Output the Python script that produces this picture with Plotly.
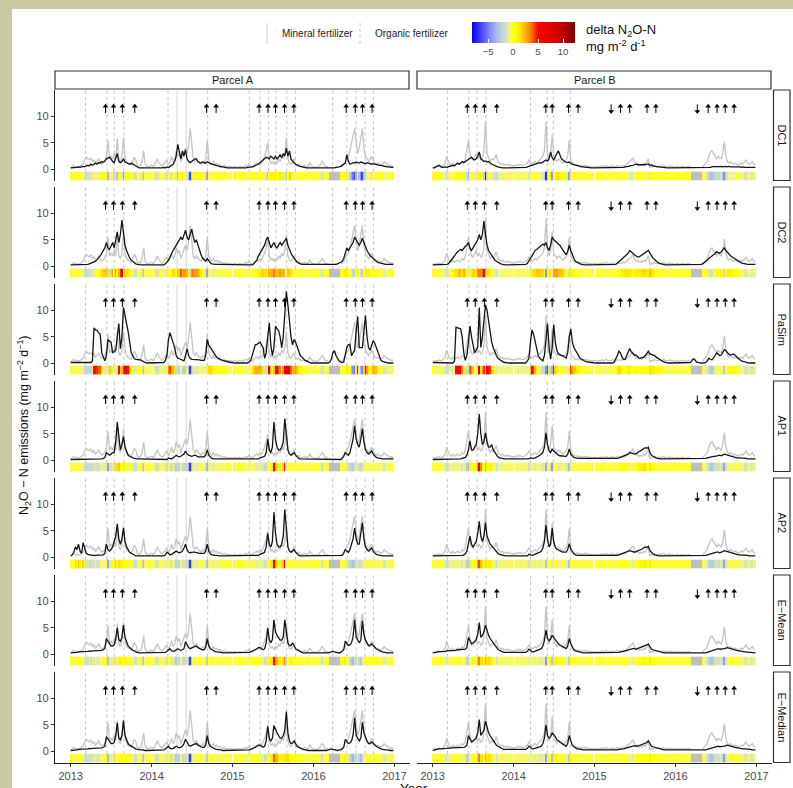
import plotly.graph_objects as go
import pandas as pd

W, H = 793, 788

# ---------------- data ----------------
week_dates = pd.date_range("2013-01-01", periods=209, freq="7D")
models = ["DC1", "DC2", "PaSim", "AP1", "AP2", "E\u2212Mean", "E\u2212Median"]
parcels = ["Parcel A", "Parcel B"]
year_ticks = ["2013-01-01", "2014-01-01", "2015-01-01", "2016-01-01", "2017-01-01"]
year_labels = ["2013", "2014", "2015", "2016", "2017"]
cbar_ticks = [-5, 0, 5, 10]

N = None
obs_a = [
 0.3,0.5,0.8,0.5,0.6,0.4,0.6,0.8,1.0,1.8, 2.3,2.0,1.8,2.2,1.5,1.8,1.2,1.6,2.0,1.4,
 1.0,1.2,1.5,2.5,5.5,2.0,2.5,2.0,3.0,2.0, 5.8,2.0,1.5,2.5,6.0,2.5,1.5,1.2,1.0,0.8,
 1.5,2.3,1.8,0.8,0.6,0.8,1.5,3.5,1.0,0.6, 0.5,0.6,
 0.8,0.6,0.8,1.5,2.0,1.2,0.8,0.6,1.0,1.5, 1.8,1.0,1.5,2.5,1.5,2.0,3.5,2.5,3.0,1.5,
 2.5,3.0,4.0,3.0,4.5,7.7,4.0,2.0,1.5,2.0, 1.5,1.2,1.0,1.5,1.2,2.0,5.5,2.0,1.2,1.0,
 1.5,1.0,1.2,0.8,1.0,0.7,0.6,0.8,0.5,0.6, 0.5,0.6,
 0.4,0.5,0.6,0.4,0.5,0.6,0.5,0.4,0.6,0.8, 0.6,1.0,0.6,0.5,0.8,1.0,1.2,1.0,1.5,1.2,
 1.8,2.5,3.5,5.0,2.0,1.2,1.5,1.0,1.5,1.2, 2.0,1.5,2.5,2.0,3.0,6.0,2.0,1.2,1.0,1.5,
 2.0,1.0,0.8,1.0,0.6,0.5,0.6,0.8,0.5,0.6, 1.2,0.8,
 0.5,0.4,0.5,0.4,0.6,1.0,1.5,1.2,0.6,0.5, 0.6,N,N,N,N,N,N,N,0.5,0.6,
 1.0,1.5,2.0,2.5,3.5,5.0,6.5,7.7,5.0,3.0, 4.0,6.0,7.7,4.0,2.5,2.0,1.5,2.0,2.5,1.8,
 1.2,1.0,1.2,1.0,0.8,1.0,1.5,1.2,1.0,0.8, 0.6,0.7,0.5]
obs_b = [
 0.5,0.4,0.6,0.5,0.7,0.5,0.6,0.8,1.2,2.5, 1.5,1.0,0.8,1.2,0.8,1.0,1.2,0.9,1.0,1.5,
 1.2,2.0,3.5,5.5,3.0,2.0,1.8,2.5,3.0,2.0, 2.5,1.8,2.0,3.5,9.0,3.0,2.0,1.5,2.0,1.8,
 2.2,2.8,1.5,1.2,1.0,1.2,0.8,1.0,0.8,1.0, 0.7,0.8,
 0.6,0.8,0.7,1.0,0.8,0.9,0.7,0.8,1.0,1.2, 1.8,1.5,1.0,1.2,1.5,1.2,1.5,1.8,2.0,2.5,
 3.5,9.0,3.0,2.0,3.0,6.5,2.5,2.0,1.5,2.0, 1.8,1.5,1.2,1.5,1.8,2.5,5.5,2.0,1.2,1.0,
 0.8,0.9,0.7,0.8,0.6,0.7,0.8,0.6,0.7,0.5, 0.6,0.5,
 0.5,0.6,0.4,0.6,0.5,0.7,0.5,0.6,0.8,0.5, 0.6,0.5,0.7,0.6,0.5,0.8,0.6,0.7,0.6,0.8,
 0.7,1.0,1.2,1.5,1.8,2.2,1.5,1.0,1.2,0.8, 1.0,0.8,1.2,1.0,1.5,2.0,0.3,0.6,0.5,0.8,
 0.6,0.5,0.7,0.5,0.6,0.8,0.5,0.6,0.5,0.7, 0.5,0.6,
 0.4,0.5,0.6,0.4,0.5,0.6,0.5,0.4,0.5,0.6, 0.5,N,N,N,N,N,N,N,0.5,0.8,
 1.0,1.5,2.5,3.2,3.5,3.0,2.5,2.0,2.5,2.2, 2.0,3.0,5.2,2.5,1.5,1.2,1.5,1.2,1.0,1.2,
 1.0,0.8,1.0,1.2,1.0,1.5,1.8,1.2,1.0,1.2, 1.5,1.0,0.8]

dc1_a = [
 0.3,0.3,0.4,0.3,0.4,0.5,0.4,0.5,0.6,0.5, 0.6,0.8,0.7,1.0,0.8,1.0,1.2,1.0,1.3,1.2,
 1.5,1.4,1.6,2.0,2.2,2.3,2.0,1.5,1.3,2.0, 3.0,1.5,1.3,1.5,2.0,1.4,1.3,1.2,1.0,1.2,
 1.0,0.8,0.6,0.4,0.3,0.3,0.3,0.2,0.3,0.2, 0.3,0.2,
 0.2,0.3,0.2,0.3,0.3,0.2,0.3,0.3,0.4,0.3, 0.5,0.4,0.6,0.8,1.0,1.5,2.5,4.7,3.0,2.0,
 3.5,2.5,3.7,2.0,1.5,1.3,1.5,1.8,2.0,2.0, 1.5,1.3,1.2,1.4,1.3,1.2,1.5,1.2,1.1,1.0,
 0.9,0.8,0.8,0.7,0.6,0.5,0.5,0.4,0.4,0.3, 0.3,0.3,
 0.3,0.2,0.3,0.2,0.2,0.3,0.2,0.3,0.3,0.3, 0.4,0.4,0.5,0.5,0.6,0.8,0.9,1.0,1.2,1.5,
 1.8,2.0,2.3,2.2,2.0,2.5,2.2,2.0,2.5,2.0, 2.3,2.8,2.2,3.0,2.5,4.0,2.5,3.5,2.0,1.5,
 1.2,1.0,0.8,0.7,0.6,0.5,0.4,0.4,0.3,0.3, 0.3,0.3,
 0.2,0.3,0.2,0.2,0.3,0.2,0.3,0.2,0.3,0.3, 0.2,0.3,0.3,0.3,0.3,0.4,0.4,0.5,0.6,0.8,
 1.0,1.2,2.8,1.5,1.0,1.1,1.3,1.2,1.4,1.3, 1.2,1.4,1.3,1.2,1.1,1.3,1.2,1.1,1.0,1.1,
 1.0,0.9,0.9,0.8,0.8,0.7,0.6,0.6,0.5,0.5, 0.4,0.4,0.4]
dc1_b = [
 0.3,0.3,0.5,0.7,0.8,0.6,0.4,0.4,0.5,0.4, 0.5,0.6,0.6,0.8,0.7,1.0,1.2,1.0,1.2,1.5,
 1.3,1.5,1.8,2.0,2.2,2.3,2.0,1.8,2.0,2.5, 3.3,2.0,1.8,1.5,1.6,1.4,1.5,1.2,1.0,0.9,
 0.7,0.6,0.5,0.4,0.4,0.3,0.3,0.3,0.3,0.3, 0.3,0.3,
 0.3,0.3,0.3,0.3,0.3,0.3,0.3,0.4,0.4,0.5, 0.6,0.7,0.8,0.9,1.0,1.1,1.2,1.3,1.2,1.4,
 1.5,1.8,1.6,2.0,3.3,2.2,1.8,2.5,3.0,3.5, 2.5,2.0,1.8,1.5,1.4,1.3,1.4,1.1,1.0,0.9,
 0.8,0.7,0.6,0.6,0.5,0.5,0.4,0.4,0.4,0.3, 0.3,0.3,
 0.3,0.3,0.3,0.3,0.3,0.3,0.3,0.3,0.3,0.3, 0.3,0.3,0.3,0.3,0.3,0.3,0.3,0.4,0.4,0.4,
 0.5,0.5,0.6,0.7,0.7,0.8,0.9,1.0,0.9,0.9, 0.8,0.8,0.9,0.9,1.0,1.0,0.8,0.9,0.7,0.6,
 0.6,0.5,0.5,0.4,0.4,0.4,0.3,0.3,0.3,0.3, 0.3,0.3,
 0.3,0.3,0.3,0.3,0.3,0.3,0.3,0.3,0.3,0.3, 0.3,0.3,0.3,0.3,0.3,0.3,0.3,0.3,0.3,0.4,
 0.4,0.4,0.4,0.4,0.5,0.6,0.5,0.6,0.5,0.6, 0.6,0.5,0.6,0.6,0.5,0.6,0.5,0.5,0.6,0.5,
 0.5,0.5,0.5,0.4,0.5,0.4,0.4,0.4,0.4,0.4, 0.4,0.4,0.4]
dc2_a = [
 0.3,0.3,0.3,0.3,0.3,0.3,0.3,0.3,0.3,0.3, 0.3,0.4,0.5,0.6,0.7,0.8,1.0,1.3,1.6,2.0,
 2.5,3.0,3.5,4.5,3.5,3.2,4.0,4.5,3.5,5.0, 6.5,4.5,6.0,8.7,6.0,4.0,3.0,2.2,1.6,1.2,
 0.9,0.7,0.5,0.4,0.3,0.3,0.3,0.3,0.3,0.3, 0.3,0.3,
 0.3,0.3,0.3,0.3,0.3,0.3,0.3,0.3,0.3,0.5, 0.8,1.2,1.8,2.5,3.0,3.5,4.0,4.5,5.0,5.5,
 5.0,6.0,6.8,5.5,5.0,6.0,7.0,5.5,4.5,5.0, 4.0,3.0,2.2,1.6,1.2,1.0,1.5,1.0,0.7,0.5,
 0.4,0.4,0.4,0.4,0.3,0.3,0.3,0.3,0.3,0.3, 0.3,0.3,
 0.3,0.3,0.3,0.3,0.3,0.3,0.3,0.3,0.3,0.3, 0.3,0.3,0.3,0.3,0.5,0.8,1.2,2.0,2.5,3.0,
 3.5,4.0,5.0,5.5,4.5,3.5,4.0,4.5,3.8,3.5, 4.0,4.5,4.0,4.5,5.0,5.3,4.0,3.0,2.5,2.0,
 1.5,1.2,0.8,0.6,0.5,0.4,0.4,0.3,0.3,0.3, 0.3,0.3,
 0.3,0.3,0.3,0.3,0.3,0.3,0.3,0.3,0.3,0.3, 0.3,0.3,0.3,0.3,0.3,0.4,0.5,0.6,0.8,1.0,
 1.5,2.5,3.5,3.0,3.5,4.0,4.5,5.5,5.0,4.5, 4.0,4.5,5.3,4.5,3.5,3.0,2.5,2.0,1.8,1.5,
 1.2,1.0,0.8,0.7,0.6,0.5,0.4,0.4,0.4,0.4, 0.4,0.4,0.4]
dc2_b = [
 0.3,0.3,0.3,0.3,0.3,0.3,0.3,0.3,0.3,0.4, 0.5,0.8,1.2,1.6,2.0,2.5,2.8,3.0,3.2,3.0,
 3.5,3.8,4.0,4.5,3.5,3.0,3.5,4.0,4.5,5.0, 6.0,5.0,6.0,8.5,6.0,4.0,3.0,2.5,2.0,1.5,
 1.2,1.0,0.8,0.6,0.5,0.4,0.3,0.3,0.3,0.3, 0.3,0.3,
 0.3,0.3,0.3,0.3,0.3,0.3,0.3,0.3,0.4,0.6, 1.0,1.5,2.0,2.5,3.0,3.2,3.5,3.8,4.0,4.2,
 4.0,4.5,3.5,3.0,4.0,5.5,5.0,4.8,4.5,4.2, 4.0,3.5,3.0,2.5,2.2,2.8,4.0,3.0,2.0,1.5,
 1.0,0.8,0.6,0.5,0.4,0.3,0.3,0.3,0.3,0.3, 0.3,0.3,
 0.3,0.3,0.3,0.3,0.3,0.3,0.3,0.3,0.3,0.3, 0.3,0.3,0.3,0.3,0.4,0.6,0.9,1.2,1.5,1.8,
 2.0,2.2,2.5,3.0,2.8,2.5,2.2,2.0,1.8,1.8, 2.0,2.2,2.4,2.6,2.8,3.0,2.5,2.0,1.6,1.3,
 1.0,0.8,0.6,0.5,0.4,0.3,0.3,0.3,0.3,0.3, 0.3,0.3,
 0.3,0.3,0.3,0.3,0.3,0.3,0.3,0.3,0.3,0.3, 0.3,0.3,0.3,0.3,0.3,0.3,0.3,0.4,0.5,0.7,
 0.9,1.2,1.5,1.8,2.0,2.2,2.4,2.8,2.6,2.5, 2.8,3.2,3.5,3.0,2.6,2.2,2.0,1.8,1.6,1.4,
 1.2,1.0,0.8,0.7,0.6,0.5,0.4,0.4,0.4,0.4, 0.4,0.4,0.4]
pasim_a = [
 0.2,0.2,0.1,0.1,0.1,0.1,0.1,0.1,0.1,0.1, 0.1,0.1,0.1,0.2,0.5,6.7,6.3,6.2,5.8,5.5,
 2.0,1.0,0.5,1.5,4.5,4.2,4.0,2.0,2.2,2.5, 5.0,7.5,2.8,5.0,10.5,9.0,8.0,6.0,4.0,2.0,
 1.5,0.9,0.8,0.8,0.7,0.7,0.5,0.3,0.2,0.1, 0.1,0.1,
 0.1,0.1,0.1,0.1,0.1,0.1,0.1,0.1,0.2,0.6, 1.5,4.5,5.8,4.8,4.0,3.0,1.5,1.0,0.9,0.8,
 0.6,0.5,1.5,2.8,1.5,1.0,0.8,0.8,0.7,0.7, 0.7,0.7,0.6,0.6,0.6,1.5,4.5,3.5,3.0,2.5,
 2.0,1.5,1.2,1.0,0.8,0.7,0.6,0.5,0.4,0.3, 0.2,0.2,
 0.2,0.1,0.1,0.1,0.1,0.1,0.1,0.1,0.1,0.1, 0.1,0.3,0.6,1.5,2.5,3.5,3.6,3.8,4.0,3.5,
 3.0,1.0,2.0,5.0,7.6,3.5,1.5,3.0,7.0,6.5, 6.2,5.0,3.0,5.0,9.0,13.5,11.0,8.0,5.0,3.5,
 4.5,4.0,3.0,2.2,1.5,1.2,0.8,0.6,0.5,0.3, 0.2,0.1,
 0.1,0.1,0.1,0.1,0.1,0.1,0.1,0.1,0.1,0.1, 0.1,0.3,0.8,2.0,2.4,1.5,1.0,0.5,0.3,0.2,
 0.3,1.5,3.0,3.5,3.6,1.5,2.0,2.5,6.0,8.8, 3.0,3.0,3.0,6.0,9.0,5.0,3.0,2.5,3.5,4.3,
 3.8,3.0,2.0,1.0,0.6,0.4,0.3,0.2,0.1,0.1, 0.1,0.1,0.1]
pasim_b = [
 0.2,0.2,0.1,0.1,0.1,0.1,0.1,0.1,0.1,0.1, 0.1,0.1,0.1,0.1,0.4,6.8,6.7,6.6,6.5,5.0,
 2.0,0.6,1.5,4.0,7.0,5.0,3.5,2.0,2.5,3.0, 10.5,3.0,5.0,8.0,11.0,10.0,8.0,6.0,4.0,3.0,
 2.0,1.5,1.0,0.8,0.5,0.3,0.2,0.2,0.1,0.1, 0.1,0.1,
 0.1,0.1,0.1,0.1,0.1,0.1,0.1,0.1,0.1,0.5, 1.0,4.0,6.3,5.5,4.0,2.5,1.5,1.0,0.7,0.5,
 1.5,4.5,7.5,3.0,0.8,3.0,7.3,4.0,2.5,1.8, 1.6,1.5,1.5,1.3,1.0,2.0,5.0,6.5,4.0,3.0,
 2.5,2.0,1.5,1.0,0.8,0.6,0.5,0.3,0.3,0.2, 0.2,0.2,
 0.1,0.1,0.1,0.1,0.1,0.1,0.1,0.1,0.1,0.1, 0.1,0.1,0.1,0.3,0.8,1.5,2.3,2.0,1.2,0.8,
 0.8,1.5,2.0,2.8,2.2,1.8,1.6,1.6,1.2,1.0, 1.0,1.1,1.2,1.5,2.0,2.3,1.8,1.7,1.6,1.5,
 1.2,1.0,0.8,0.6,0.5,0.3,0.2,0.1,0.1,0.1, 0.1,0.1,
 0.1,0.1,0.1,0.1,0.1,0.1,0.1,0.1,0.1,0.1, 0.2,0.5,0.9,0.7,0.3,0.2,0.1,0.1,0.1,0.1,
 0.2,0.5,1.0,0.8,0.7,1.0,1.5,2.0,1.8,1.5, 1.6,2.2,2.6,2.4,2.0,1.7,1.6,1.7,1.8,1.5,
 1.2,1.0,0.8,0.5,0.4,0.3,0.2,0.2,0.1,0.1, 0.1,0.1,0.1]
ap1_a = [
 0.2,0.2,0.2,0.2,0.3,0.2,0.2,0.3,0.2,0.3, 0.3,0.2,0.3,0.3,0.3,0.3,0.3,0.3,0.3,0.3,
 0.3,0.4,0.6,1.5,1.2,1.0,1.2,1.5,1.5,3.5, 7.2,4.0,2.0,3.0,4.5,2.5,1.5,1.0,0.8,0.6,
 0.5,0.4,0.3,0.3,0.3,0.3,0.3,0.3,0.3,0.3, 0.3,0.3,
 0.2,0.2,0.2,0.2,0.2,0.2,0.2,0.2,0.2,0.2, 0.2,0.5,0.4,0.3,0.5,0.8,1.0,0.8,0.7,0.8,
 1.0,1.2,1.8,1.2,1.0,0.9,0.8,0.9,1.0,0.9, 0.7,0.7,0.7,0.7,0.7,1.0,2.0,1.0,0.6,0.4,
 0.3,0.3,0.3,0.3,0.3,0.2,0.2,0.2,0.2,0.2, 0.2,0.2,
 0.2,0.2,0.2,0.2,0.2,0.2,0.2,0.2,0.2,0.2, 0.2,0.2,0.2,0.2,0.2,0.2,0.2,0.3,0.5,0.6,
 0.6,0.8,1.5,4.0,2.0,1.5,2.5,7.2,4.0,2.5, 2.0,2.0,2.5,3.5,7.8,4.5,2.0,1.2,1.0,1.2,
 1.5,1.0,0.6,0.4,0.3,0.3,0.3,0.3,0.2,0.2, 0.2,0.2,
 0.2,0.2,0.2,0.2,0.2,0.2,0.2,0.2,0.2,0.2, 0.2,0.2,0.2,0.2,0.2,0.2,0.2,0.2,0.2,0.4,
 0.8,1.5,1.2,1.0,1.5,2.5,4.0,6.5,4.0,3.0, 2.5,4.0,6.0,3.5,2.0,1.5,1.2,1.5,1.8,1.2,
 0.8,0.6,0.5,0.4,0.3,0.3,0.3,0.3,0.3,0.3, 0.3,0.3,0.3]
ap1_b = [
 0.2,0.2,0.3,0.3,0.3,0.3,0.3,0.3,0.3,0.3, 0.3,0.3,0.3,0.3,0.3,0.3,0.3,0.3,0.3,0.4,
 0.5,0.6,1.0,2.0,3.7,2.0,2.0,2.5,3.0,5.0, 8.7,5.0,3.0,3.5,5.2,3.5,2.5,2.5,3.0,2.0,
 1.5,1.0,0.7,0.5,0.4,0.3,0.3,0.3,0.3,0.3, 0.3,0.3,
 0.3,0.3,0.3,0.3,0.3,0.3,0.3,0.3,0.3,0.3, 0.3,0.5,0.4,0.4,0.5,0.6,0.8,1.0,1.2,1.5,
 2.5,5.2,3.0,1.8,1.5,2.2,1.8,1.5,1.2,1.0, 0.9,0.9,0.8,0.8,0.8,1.2,2.2,1.2,0.8,0.6,
 0.5,0.4,0.4,0.4,0.4,0.3,0.3,0.3,0.3,0.3, 0.3,0.3,
 0.3,0.3,0.3,0.3,0.3,0.3,0.3,0.3,0.3,0.3, 0.3,0.3,0.3,0.3,0.3,0.4,0.5,0.6,0.7,0.8,
 0.9,1.0,1.2,1.5,1.4,1.3,1.2,1.3,1.5,1.6, 1.8,2.0,2.2,2.4,2.3,2.5,1.5,1.0,0.8,0.6,
 0.5,0.4,0.3,0.3,0.3,0.3,0.3,0.3,0.3,0.3, 0.3,0.3,
 0.3,0.3,0.3,0.3,0.3,0.3,0.3,0.3,0.3,0.3, 0.3,0.3,0.3,0.3,0.3,0.3,0.3,0.3,0.3,0.3,
 0.4,0.5,0.6,0.7,0.7,0.8,0.8,0.9,0.9,1.0, 0.9,1.0,1.2,1.1,1.0,0.9,0.8,0.8,0.7,0.6,
 0.5,0.5,0.5,0.4,0.4,0.4,0.4,0.3,0.3,0.3, 0.3,0.3,0.3]
ap2_a = [
 0.3,0.5,1.0,2.0,1.5,2.5,1.2,0.8,2.8,1.5, 0.8,0.6,0.5,0.4,0.4,0.4,0.4,0.4,0.4,0.4,
 0.4,0.5,0.8,2.5,1.5,1.2,1.5,2.0,3.0,4.0, 6.3,3.5,2.5,3.5,5.5,3.0,2.0,1.5,1.0,0.8,
 0.6,0.5,0.3,0.3,0.3,0.3,0.3,0.3,0.3,0.3, 0.3,0.3,
 0.3,0.3,0.3,0.3,0.3,0.3,0.3,0.3,0.3,0.5, 1.0,0.8,0.5,0.6,0.8,1.0,1.2,1.0,0.9,1.0,
 1.2,1.8,2.5,1.5,1.0,0.9,1.0,1.0,1.0,0.9, 0.8,0.8,0.8,0.8,0.8,1.2,2.5,1.2,0.7,0.5,
 0.4,0.4,0.4,0.3,0.3,0.3,0.3,0.3,0.3,0.3, 0.3,0.3,
 0.3,0.3,0.3,0.3,0.3,0.3,0.3,0.3,0.3,0.3, 0.3,0.3,0.3,0.3,0.3,0.3,0.3,0.4,0.6,0.7,
 0.8,1.0,2.0,4.5,2.5,2.0,3.0,8.5,4.5,2.5, 2.0,2.0,2.5,4.0,9.0,5.0,2.0,1.2,1.0,1.2,
 1.5,1.0,0.6,0.4,0.3,0.3,0.3,0.3,0.3,0.3, 0.3,0.3,
 0.3,0.3,0.3,0.3,0.3,0.3,0.3,0.3,0.3,0.3, 0.3,0.3,0.3,0.3,0.3,0.3,0.3,0.3,0.3,0.4,
 0.8,1.5,1.2,1.0,1.5,2.5,3.5,5.5,3.5,2.5, 2.5,4.5,6.5,3.5,2.0,1.5,1.2,1.5,1.8,1.2,
 0.8,0.6,0.5,0.4,0.4,0.3,0.3,0.3,0.3,0.3, 0.3,0.3,0.3]
ap2_b = [
 0.3,0.3,0.3,0.3,0.3,0.3,0.3,0.3,0.3,0.3, 0.3,0.3,0.3,0.3,0.3,0.3,0.3,0.3,0.3,0.4,
 0.5,0.7,1.2,2.5,4.0,2.5,2.0,2.5,3.0,4.5, 6.8,4.0,3.0,4.0,6.5,4.0,3.0,2.5,2.2,1.8,
 1.4,1.0,0.8,0.6,0.5,0.4,0.3,0.3,0.3,0.3, 0.3,0.3,
 0.3,0.3,0.3,0.3,0.3,0.3,0.3,0.3,0.3,0.3, 0.6,0.5,0.4,0.5,0.6,0.7,0.8,1.0,1.2,1.8,
 3.0,6.1,3.5,2.0,2.5,5.5,3.0,2.0,1.6,1.4, 1.2,1.1,1.0,1.0,1.0,1.5,2.6,1.5,1.0,0.7,
 0.5,0.4,0.4,0.4,0.4,0.3,0.3,0.3,0.3,0.3, 0.3,0.3,
 0.3,0.3,0.3,0.3,0.3,0.3,0.3,0.3,0.3,0.3, 0.3,0.3,0.3,0.3,0.3,0.4,0.5,0.6,0.7,0.8,
 0.9,1.0,1.1,1.3,1.2,1.1,1.0,1.1,1.2,1.3, 1.5,1.6,1.8,2.0,1.9,2.1,1.3,0.9,0.7,0.5,
 0.4,0.3,0.3,0.3,0.3,0.3,0.3,0.3,0.3,0.3, 0.3,0.3,
 0.3,0.3,0.3,0.3,0.3,0.3,0.3,0.3,0.3,0.3, 0.3,0.3,0.3,0.3,0.3,0.3,0.3,0.3,0.3,0.3,
 0.4,0.5,0.6,0.7,0.8,0.8,0.9,1.0,1.0,0.9, 1.0,1.1,1.3,1.2,1.1,1.0,0.9,0.8,0.8,0.7,
 0.6,0.5,0.5,0.5,0.4,0.4,0.4,0.4,0.3,0.3, 0.3,0.3,0.3]
emean_a = [
 0.3,0.3,0.4,0.4,0.4,0.5,0.5,0.5,0.6,0.6, 0.6,0.6,0.7,0.6,0.7,0.7,0.7,0.7,0.8,0.7,
 0.8,0.9,1.2,3.0,2.5,2.0,1.6,1.6,1.8,3.0, 5.0,2.8,2.5,3.2,5.5,3.2,2.2,1.6,1.3,1.0,
 0.8,0.7,0.5,0.4,0.3,0.3,0.3,0.3,0.3,0.3, 0.3,0.3,
 0.3,0.3,0.3,0.3,0.3,0.3,0.3,0.3,0.3,0.4, 0.6,0.9,1.1,0.7,0.6,0.7,0.9,1.1,0.9,0.8,
 0.9,1.1,2.4,1.9,1.3,1.1,1.3,1.4,1.5,1.6, 1.3,1.1,1.0,0.9,0.9,1.3,3.0,1.6,1.1,0.9,
 0.7,0.6,0.5,0.5,0.4,0.4,0.3,0.3,0.3,0.3, 0.3,0.3,
 0.3,0.3,0.3,0.3,0.3,0.3,0.3,0.3,0.3,0.3, 0.3,0.4,0.5,0.6,0.7,0.9,1.1,1.3,1.3,1.0,
 0.9,1.1,2.2,5.0,2.8,2.2,2.8,6.5,4.2,3.6, 3.1,2.7,2.7,3.3,6.5,3.8,2.2,1.7,1.7,2.2,
 1.6,1.1,0.9,0.7,0.5,0.4,0.3,0.3,0.3,0.3, 0.3,0.3,
 0.2,0.2,0.2,0.2,0.2,0.2,0.2,0.2,0.2,0.3, 0.3,0.4,0.5,0.6,0.5,0.4,0.3,0.3,0.4,0.6,
 0.9,2.5,2.2,1.7,1.8,2.2,3.3,6.5,3.3,2.7, 2.2,2.7,6.3,3.8,2.7,2.2,1.7,1.7,2.0,1.7,
 1.3,1.1,0.9,0.7,0.6,0.5,0.4,0.3,0.3,0.3, 0.3,0.3,0.3]
emean_b = [
 0.3,0.3,0.4,0.5,0.5,0.5,0.6,0.6,0.6,0.7, 0.7,0.7,0.7,0.8,0.8,0.8,0.9,0.9,0.9,0.9,
 0.9,1.0,1.3,3.2,2.6,2.0,2.2,2.4,2.8,3.8, 6.0,3.2,3.6,4.2,5.5,4.5,3.6,3.0,2.6,2.1,
 1.6,1.3,1.0,0.8,0.6,0.5,0.4,0.4,0.3,0.3, 0.3,0.3,
 0.3,0.3,0.3,0.3,0.3,0.3,0.3,0.3,0.4,0.6, 1.0,0.8,0.5,0.5,0.6,0.7,0.8,0.9,1.1,1.6,
 2.6,4.6,3.0,2.6,2.9,3.6,3.2,2.8,2.3,2.0, 1.8,1.6,1.4,1.3,1.1,1.6,3.0,2.0,1.3,0.9,
 0.7,0.6,0.5,0.4,0.4,0.3,0.3,0.3,0.3,0.3, 0.3,0.3,
 0.3,0.3,0.3,0.3,0.3,0.3,0.3,0.3,0.3,0.3, 0.3,0.3,0.3,0.3,0.3,0.4,0.4,0.5,0.5,0.6,
 0.7,0.8,0.9,1.0,1.0,1.1,1.1,1.0,1.1,1.2, 1.3,1.4,1.5,1.7,1.8,2.0,1.4,1.0,0.9,0.8,
 0.7,0.6,0.5,0.4,0.4,0.3,0.3,0.3,0.3,0.3, 0.3,0.3,
 0.2,0.2,0.2,0.2,0.2,0.2,0.2,0.2,0.2,0.2, 0.2,0.2,0.2,0.2,0.2,0.2,0.2,0.2,0.2,0.2,
 0.3,0.4,0.5,0.6,0.7,0.8,0.9,1.0,1.1,1.0, 1.0,1.0,1.1,1.2,1.3,1.2,1.1,1.0,0.9,0.8,
 0.8,0.7,0.7,0.6,0.6,0.5,0.5,0.4,0.4,0.4, 0.3,0.3,0.3]
emedian_a = [
 0.2,0.2,0.3,0.3,0.3,0.4,0.4,0.4,0.5,0.5, 0.5,0.5,0.6,0.5,0.6,0.6,0.6,0.6,0.7,0.6,
 0.7,0.8,1.0,2.8,2.3,2.0,1.5,1.5,1.7,3.0, 5.4,2.5,2.2,3.0,5.8,3.0,2.0,1.5,1.2,1.0,
 0.8,0.7,0.5,0.4,0.3,0.3,0.3,0.2,0.2,0.2, 0.2,0.2,
 0.2,0.2,0.2,0.2,0.2,0.2,0.2,0.2,0.3,0.5, 0.8,1.0,0.6,0.5,0.6,0.8,1.0,0.8,0.7,0.8,
 1.0,1.5,2.3,1.8,1.2,1.0,1.2,1.3,1.4,1.5, 1.2,1.0,0.9,0.8,0.8,1.2,3.0,1.5,1.0,0.8,
 0.6,0.5,0.4,0.4,0.3,0.3,0.2,0.2,0.2,0.2, 0.2,0.2,
 0.2,0.2,0.2,0.2,0.2,0.2,0.2,0.2,0.2,0.2, 0.2,0.3,0.4,0.5,0.6,0.8,1.0,1.2,1.2,0.9,
 0.8,1.0,2.0,4.7,2.5,2.0,2.5,4.9,4.0,3.5, 3.0,2.5,2.5,3.0,4.0,7.5,3.5,2.0,1.5,1.6,
 2.0,1.5,1.0,0.8,0.6,0.5,0.4,0.3,0.2,0.2, 0.2,0.2,
 0.2,0.1,0.2,0.1,0.2,0.2,0.1,0.2,0.2,0.2, 0.3,0.4,0.5,0.4,0.3,0.2,0.2,0.3,0.3,0.5,
 0.8,2.3,2.0,1.5,1.6,2.0,3.0,6.3,3.0,2.5, 2.0,2.5,5.5,3.5,2.5,2.0,1.5,1.5,1.8,1.5,
 1.2,1.0,0.8,0.6,0.5,0.4,0.3,0.3,0.3,0.2, 0.2,0.2,0.2]
emedian_b = [
 0.2,0.3,0.4,0.4,0.5,0.5,0.5,0.6,0.6,0.6, 0.7,0.6,0.7,0.7,0.8,0.7,0.8,0.8,0.8,0.8,
 0.8,0.9,1.2,3.0,2.5,1.8,2.0,2.2,2.5,3.5, 6.0,3.0,3.5,4.0,5.7,4.5,3.5,3.0,2.5,2.0,
 1.5,1.2,1.0,0.8,0.6,0.5,0.4,0.4,0.3,0.3, 0.3,0.3,
 0.3,0.3,0.3,0.3,0.3,0.3,0.3,0.3,0.4,0.6, 1.0,0.8,0.5,0.5,0.6,0.6,0.7,0.8,1.0,1.5,
 2.5,5.0,3.0,2.5,2.8,3.5,3.2,2.8,2.2,2.0, 1.8,1.5,1.3,1.2,1.0,1.5,3.0,2.0,1.2,0.9,
 0.7,0.5,0.5,0.4,0.3,0.3,0.3,0.3,0.3,0.3, 0.3,0.3,
 0.3,0.2,0.3,0.2,0.3,0.2,0.3,0.2,0.3,0.3, 0.3,0.3,0.3,0.3,0.3,0.3,0.4,0.4,0.5,0.5,
 0.6,0.7,0.8,0.9,1.0,1.0,1.1,1.0,1.0,1.1, 1.2,1.3,1.4,1.6,1.7,2.0,1.4,1.0,0.9,0.8,
 0.7,0.6,0.5,0.4,0.4,0.3,0.3,0.3,0.3,0.2, 0.3,0.2,
 0.2,0.2,0.2,0.2,0.2,0.2,0.2,0.2,0.2,0.2, 0.2,0.2,0.2,0.2,0.2,0.2,0.2,0.2,0.2,0.2,
 0.3,0.4,0.5,0.6,0.6,0.7,0.8,0.9,1.0,0.9, 0.9,0.9,1.0,1.1,1.2,1.1,1.0,0.9,0.8,0.8,
 0.7,0.7,0.6,0.6,0.5,0.5,0.5,0.4,0.4,0.4, 0.3,0.3,0.3]

sim = {
    ("A", 0): dc1_a, ("B", 0): dc1_b,
    ("A", 1): dc2_a, ("B", 1): dc2_b,
    ("A", 2): pasim_a, ("B", 2): pasim_b,
    ("A", 3): ap1_a, ("B", 3): ap1_b,
    ("A", 4): ap2_a, ("B", 4): ap2_b,
    ("A", 5): emean_a, ("B", 5): emean_b,
    ("A", 6): emedian_a, ("B", 6): emedian_b,
}
obs = {"A": obs_a, "B": obs_b}

organic_a = ["2013-03-09", "2013-06-13", "2013-07-16", "2013-08-29", "2014-03-16",
             "2014-09-11", "2015-03-18", "2015-05-06", "2015-06-13", "2015-07-16",
             "2015-09-03", "2015-10-12", "2016-03-28", "2016-05-31", "2016-07-12",
             "2016-08-21", "2016-09-28"]
mineral_a = ["2014-04-26", "2014-06-06"]
organic_b = ["2013-03-08", "2013-06-13", "2013-07-20", "2013-08-30", "2014-03-18",
             "2014-06-02", "2014-06-29", "2014-09-14"]
mineral_b = []
arrows_up_a = ["2013-06-07", "2013-07-13", "2013-08-22", "2013-10-17", "2014-09-06",
               "2014-10-19", "2015-05-01", "2015-06-10", "2015-07-14", "2015-08-24",
               "2015-10-05", "2016-05-28", "2016-07-08", "2016-08-10", "2016-09-22"]
arrows_up_b = ["2013-06-06", "2013-07-12", "2013-08-22", "2013-10-17", "2014-05-26",
               "2014-06-24", "2014-09-06", "2014-10-19", "2015-04-28", "2015-06-09",
               "2015-08-26", "2015-10-05", "2016-05-28", "2016-07-07", "2016-08-13",
               "2016-09-22"]
arrows_down_a = []
arrows_down_b = ["2015-03-17", "2016-04-09"]
strip_breaks = ["2014-01-01", "2015-01-01"]

fert = {"A": (organic_a, mineral_a, arrows_up_a, arrows_down_a),
        "B": (organic_b, mineral_b, arrows_up_b, arrows_down_b)}

for k, v in sim.items():
    assert len(v) == 209, (k, len(v))
assert len(obs_a) == 209 and len(obs_b) == 209

# ---------------- geometry ----------------
def fx(p):
    return p / W

def fy(p):
    return 1 - p / H

col_px = [(55, 410), (417, 772)]
row_top0, row_h, row_step = 90, 90.5, 97
Y_RANGE = [-2.05, 14.9]
X_RANGE = ["2012-10-22", "2017-03-12"]
STRIP = (-2.0, -0.4)
FONT = "Liberation Sans, Arial, Helvetica, sans-serif"

colorscale = [
    [0.0, "#0000ff"], [0.0825, "#4040ff"], [0.155, "#7b7bff"], [0.228, "#a4b4f0"],
    [0.291, "#bcd4d8"], [0.335, "#d6e2b4"], [0.364, "#f0f48a"], [0.383, "#ffff30"],
    [0.422, "#ffff00"], [0.471, "#ffe000"], [0.52, "#ffb000"], [0.568, "#ff8000"],
    [0.607, "#ff4000"], [0.641, "#ff0000"], [0.835, "#d00000"], [1.0, "#800000"]]

fig = go.Figure()
layout = {}


def segs(dates, y0, y1):
    xs, ys = [], []
    for d in dates:
        xs += [d, d, None]
        ys += [y0, y1, None]
    return xs, ys


for r, model in enumerate(models):
    top = row_top0 + r * row_step
    bot = top + row_h
    for c, pk in enumerate(["A", "B"]):
        n = r * 2 + c + 1
        xn = "x" if n == 1 else f"x{n}"
        yn = "y" if n == 1 else f"y{n}"
        x0p, x1p = col_px[c]
        bottom_row = r == len(models) - 1
        layout["xaxis" if n == 1 else f"xaxis{n}"] = dict(
            domain=[fx(x0p), fx(x1p)], anchor=yn, type="date", range=X_RANGE,
            tickvals=year_ticks, ticktext=year_labels, showticklabels=bottom_row,
            ticks="outside" if bottom_row else "", ticklen=3, tickcolor="#333333",
            showline=bottom_row, linecolor="#222222", linewidth=1.1,
            showgrid=False, zeroline=False,
            tickfont=dict(family=FONT, size=11, color="#4d4d4d"))
        layout["yaxis" if n == 1 else f"yaxis{n}"] = dict(
            domain=[fy(bot), fy(top)], anchor=xn, range=Y_RANGE,
            tickvals=[0, 5, 10], showticklabels=(c == 0),
            ticks="outside" if c == 0 else "", ticklen=3, tickcolor="#333333",
            showline=(c == 0), linecolor="#222222", linewidth=1.1,
            showgrid=False, zeroline=False,
            tickfont=dict(family=FONT, size=11, color="#4d4d4d"))

        organic, mineral, up, down = fert[pk]
        xs, ys = segs(organic, STRIP[1], Y_RANGE[1])
        fig.add_trace(go.Scatter(x=xs, y=ys, mode="lines", xaxis=xn, yaxis=yn,
                                 line=dict(color="#b3b3b3", width=0.8, dash="dot"),
                                 showlegend=False, hoverinfo="skip"))
        if mineral:
            xs, ys = segs(mineral, STRIP[1], Y_RANGE[1])
            fig.add_trace(go.Scatter(x=xs, y=ys, mode="lines", xaxis=xn, yaxis=yn,
                                     line=dict(color="#d4d4d4", width=1.0),
                                     showlegend=False, hoverinfo="skip"))
        o = obs[pk]
        m = sim[(pk, r)]
        fig.add_trace(go.Scatter(x=week_dates, y=o, mode="lines", xaxis=xn, yaxis=yn,
                                 line=dict(color="#c4c4c4", width=1.3),
                                 connectgaps=False, showlegend=False, hoverinfo="skip"))
        fig.add_trace(go.Scatter(x=week_dates, y=m, mode="lines", xaxis=xn, yaxis=yn,
                                 line=dict(color="#151515", width=1.3),
                                 showlegend=False, hoverinfo="skip"))
        delta = [(mv - ov) if ov is not None else None for mv, ov in zip(m, o)]
        fig.add_trace(go.Heatmap(x=week_dates, y=list(STRIP), z=[delta],
                                 coloraxis="coloraxis", xaxis=xn, yaxis=yn,
                                 hoverinfo="skip"))
        mask = [1 if ov is None else None for ov in o]
        fig.add_trace(go.Heatmap(x=week_dates, y=list(STRIP), z=[mask],
                                 colorscale=[[0, "#bebebe"], [1, "#bebebe"]],
                                 showscale=False, xaxis=xn, yaxis=yn, hoverinfo="skip"))
        xs, ys = segs(strip_breaks, STRIP[0], STRIP[1])
        fig.add_trace(go.Scatter(x=xs, y=ys, mode="lines", xaxis=xn, yaxis=yn,
                                 line=dict(color="white", width=1.2),
                                 showlegend=False, hoverinfo="skip"))
        # arrows
        xs, ys = segs(up, 10.6, 11.7)
        xs2, ys2 = segs(down, 11.0, 12.2)
        fig.add_trace(go.Scatter(x=xs + xs2, y=ys + ys2, mode="lines", xaxis=xn, yaxis=yn,
                                 line=dict(color="black", width=1.0),
                                 showlegend=False, hoverinfo="skip"))
        fig.add_trace(go.Scatter(x=up, y=[11.85] * len(up), mode="markers",
                                 xaxis=xn, yaxis=yn,
                                 marker=dict(symbol="triangle-up", size=5, color="black"),
                                 showlegend=False, hoverinfo="skip"))
        if down:
            fig.add_trace(go.Scatter(x=down, y=[10.85] * len(down), mode="markers",
                                     xaxis=xn, yaxis=yn,
                                     marker=dict(symbol="triangle-down", size=5, color="black"),
                                     showlegend=False, hoverinfo="skip"))

shapes = [dict(type="rect", xref="paper", yref="paper", x0=fx(12), x1=1.0,
               y0=0.0, y1=fy(9), fillcolor="white", line=dict(width=0), layer="below")]
annotations = []


def note(xp, yp, text, size, color="#1a1a1a", xanchor="center", yanchor="middle", angle=0):
    annotations.append(dict(x=fx(xp), y=fy(yp), xref="paper", yref="paper",
                            xanchor=xanchor, yanchor=yanchor, text=text, showarrow=False,
                            textangle=angle, font=dict(family=FONT, size=size, color=color)))


# top strips
for c, name in enumerate(parcels):
    x0p, x1p = col_px[c]
    shapes.append(dict(type="rect", xref="paper", yref="paper", x0=fx(x0p), x1=fx(x1p - 1),
                       y0=fy(89), y1=fy(71), fillcolor="white",
                       line=dict(color="#333333", width=1.2)))
    note((x0p + x1p) / 2, 80, name, 11)
# right strips
for r, model in enumerate(models):
    top = row_top0 + r * row_step
    bot = top + row_h
    shapes.append(dict(type="rect", xref="paper", yref="paper", x0=fx(773.5), x1=fx(790),
                       y0=fy(bot), y1=fy(top), fillcolor="white",
                       line=dict(color="#333333", width=1.2)))
    note(781.8, (top + bot) / 2, model, 11, angle=90)

# legend for fertilizer lines
shapes.append(dict(type="line", xref="paper", yref="paper", x0=fx(267), x1=fx(267),
                   y0=fy(44), y1=fy(23), line=dict(color="#cfcfcf", width=1.0)))
shapes.append(dict(type="line", xref="paper", yref="paper", x0=fx(360), x1=fx(360),
                   y0=fy(44), y1=fy(23), line=dict(color="#b3b3b3", width=0.8, dash="dot")))
note(280, 33, "Mineral fertilizer", 10, "#222222", xanchor="left")
note(373, 33, "Organic fertilizer", 10, "#222222", xanchor="left")
note(584, 30, "delta N<sub>2</sub>O-N", 13, "#111111", xanchor="left")
note(584, 46, "mg m<sup>-2</sup> d<sup>-1</sup>", 13, "#111111", xanchor="left")
# axis titles
note(24, 426, "N<sub>2</sub>O \u2212 N emissions (mg m<sup>\u22122</sup> d<sup>\u22121</sup>)",
     12.5, "#111111", angle=-90)
note(414, 779, "Year", 13.5, "#111111", yanchor="top")

fig.update_layout(
    width=W, height=H, margin=dict(l=0, r=0, t=0, b=0),
    paper_bgcolor="#c8c9a1", plot_bgcolor="rgba(0,0,0,0)",
    showlegend=False, shapes=shapes, annotations=annotations,
    coloraxis=dict(
        colorscale=colorscale, cmin=-8.2, cmax=12.4,
        colorbar=dict(orientation="h", x=fx(472), xanchor="left", y=fy(22), yanchor="top",
                      len=103 / W, lenmode="fraction", thickness=21, thicknessmode="pixels",
                      xpad=0, ypad=0, outlinewidth=0, tickvals=cbar_ticks,
                      ticks="inside", ticklen=4, tickcolor="white",
                      tickfont=dict(family=FONT, size=9.5, color="#4d4d4d"))),
    **layout)

fig.write_html("out.html", config={"displayModeBar": False},
               post_script="document.body.style.margin='0';document.body.style.overflow='hidden';")
